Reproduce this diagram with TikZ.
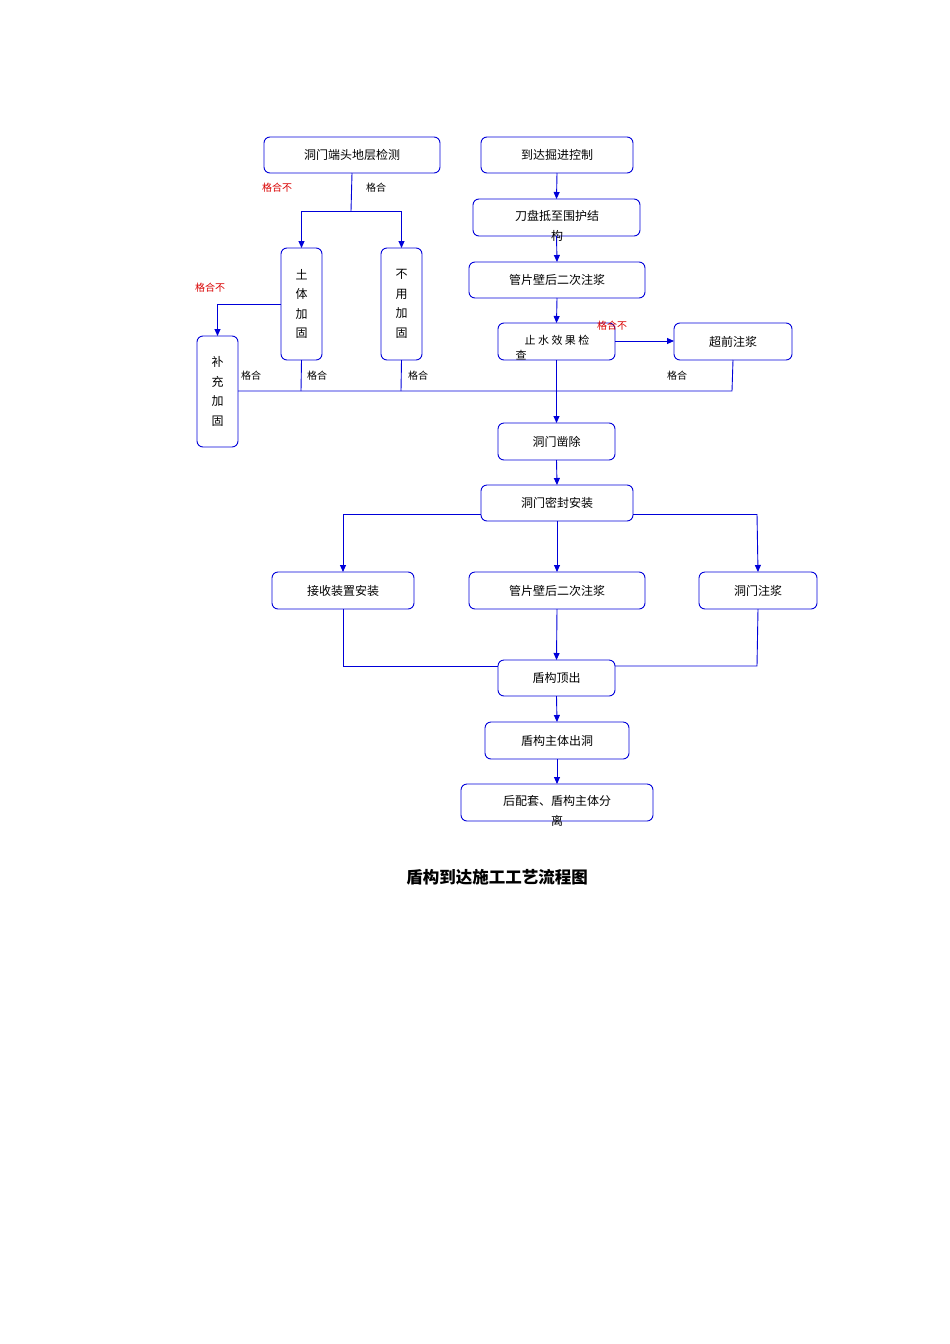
\documentclass[tikz,border=0pt]{standalone}
\usepackage{fontspec}
\newfontfamily\cjk{Noto Sans CJK SC}
\usetikzlibrary{arrows.meta}
\begin{document}
\begin{tikzpicture}[x=1pt,y=-1pt,
  bx/.style={draw=blue!85!black,line width=0.9pt,rounded corners=6pt,inner sep=0pt},
  ln/.style={draw=blue!85!black,line width=0.9pt},
  ar/.style={ln,-{Triangle[length=7pt,width=6pt]}},
  tx/.style={font=\cjk\fontsize{12}{14}\selectfont,inner sep=0pt},
  lb/.style={font=\cjk\fontsize{10}{12}\selectfont,inner sep=0pt},
  rl/.style={lb,text=red!85!black}]
\useasboundingbox (0,0) rectangle (950,1344);
\def\B#1#2#3#4#5{\draw[bx] (#2,#3) rectangle (#4,#5); \coordinate (#1) at ({(#2+#4)/2},{(#3+#5)/2});
  \coordinate (#1t) at ({(#2+#4)/2},#3); \coordinate (#1b) at ({(#2+#4)/2},#5);}
\B{A}{264}{137}{440}{173}
\B{B}{481}{137}{633}{173}
\B{C}{473}{199}{640}{236}
\B{D}{469}{262}{645}{298}
\B{E}{498}{323}{615}{360}
\B{F}{674}{323}{792}{360}
\B{G}{281}{248}{322}{360}
\B{H}{381}{248}{422}{360}
\B{I}{197}{336}{238}{447}
\B{J}{498}{423}{615}{460}
\B{K}{481}{485}{633}{521}
\B{L}{272}{572}{414}{609}
\B{M}{469}{572}{645}{609}
\B{N}{699}{572}{817}{609}
\B{O}{498}{660}{615}{696}
\B{P}{485}{722}{629}{759}
\B{Q}{461}{784}{653}{821}
\node[tx] (tA) at (A) {洞门端头地层检测};
\node[tx] (tB) at (B) {到达掘进控制};
\node[tx] (tC) at (557,216) {刀盘抵至围护结};
\node[tx] (tC2) at (557,236) {构};
\node[tx] (tD) at (D) {管片壁后二次注浆};
\node[lb,font=\cjk\fontsize{11}{12}\selectfont] (tE) at (557,340) {止 水 效 果 检};
\node[lb,font=\cjk\fontsize{11}{12}\selectfont] (tE2) at (521,355) {查};
\node[tx] (tF) at (F) {超前注浆};
\node[tx,align=center,font=\cjk\fontsize{12}{19.5}\selectfont] (tG) at (G) {土\\体\\加\\固};
\node[tx,align=center,font=\cjk\fontsize{12}{19.5}\selectfont] (tH) at (H) {不\\用\\加\\固};
\node[tx,align=center,font=\cjk\fontsize{12}{19.5}\selectfont] (tI) at (I) {补\\充\\加\\固};
\node[tx] (tJ) at (J) {洞门凿除};
\node[tx] (tK) at (K) {洞门密封安装};
\node[tx] (tL) at (L) {接收装置安装};
\node[tx] (tM) at (M) {管片壁后二次注浆};
\node[tx] (tN) at (N) {洞门注浆};
\node[tx] (tO) at (O) {盾构顶出};
\node[tx] (tP) at (P) {盾构主体出洞};
\node[tx] (tQ) at (557,801) {后配套、盾构主体分};
\node[tx] (tQ2) at (557,821) {离};
\node[font=\cjk\bfseries\fontsize{16.5}{18}\selectfont,inner sep=0pt] (title) at (497,877) {盾构到达施工工艺流程图};
% labels
\node[rl] (l1) at (277,188) {格合不};
\node[lb] (l2) at (376,188) {格合};
\node[rl] (l3) at (210,288) {格合不};
\node[rl] (l4) at (612,326) {格合不};
\node[lb] (l5) at (251,376) {格合};
\node[lb] (l6) at (317,376) {格合};
\node[lb] (l7) at (418,376) {格合};
\node[lb] (l8) at (677,376) {格合};
% connectors
\coordinate (s1) at (351,211);
\draw[ln] (Ab) -- (s1);
\draw[ar] (s1) -| (Gt);
\draw[ar] (s1) -| (Ht);
\coordinate (g1) at (281,304);
\draw[ar] (g1) -| (It);
\draw[ar] (Bb) -- (Ct);
\draw[ar] (Cb) -- (Dt);
\draw[ar] (Db) -- (Et);
\draw[ar] (615,341) -- (674,341);
\coordinate (bus) at (557,391);
\draw[ln] (238,391) -- (732,391) -- (Fb);
\draw[ln] (Gb) -- (301,391);
\draw[ln] (Hb) -- (401,391);
\draw[ar] (Eb) -- (Jt);
\draw[ar] (Jb) -- (Kt);
\draw[ar] (343,514) -- (Lt);
\draw[ar] (757,514) -- (Nt);
\draw[ln] (343,514) -- (481,514) (633,514) -- (757,514);
\draw[ar] (Kb) -- (Mt);
\draw[ln] (Lb) -- (343,666) -- (498,666);
\draw[ln] (Nb) -- (757,666) -- (615,666);
\draw[ar] (Mb) -- (Ot);
\draw[ar] (Ob) -- (Pt);
\draw[ar] (Pb) -- (Qt);
\end{tikzpicture}
\end{document}
